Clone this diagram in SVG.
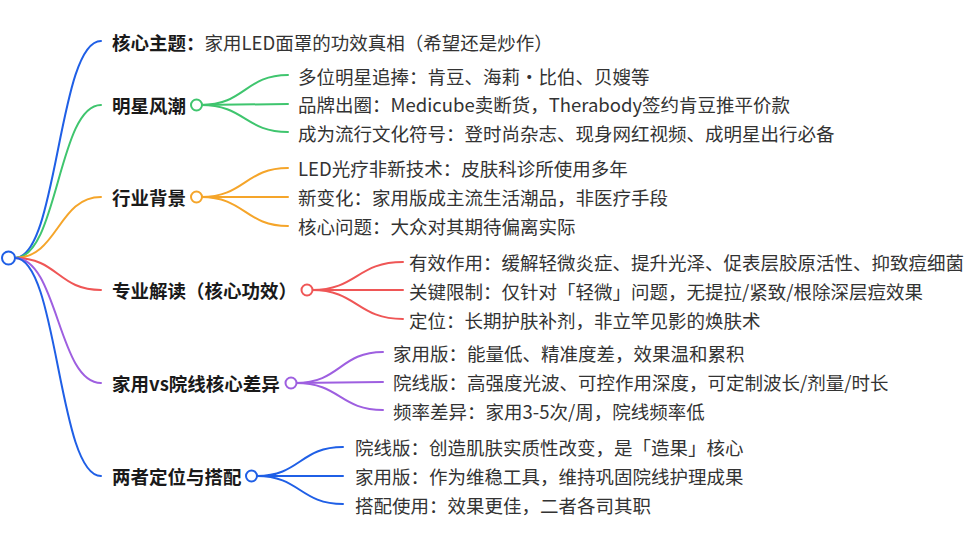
<svg xmlns="http://www.w3.org/2000/svg" width="975" height="533" viewBox="0 0 975 533">
<style>
text{font-family:"Noto Sans CJK SC","Noto Sans",sans-serif;dominant-baseline:central;}
.b{font-size:18.5px;font-weight:bold;fill:#1a1a1a;}
.n{font-size:18.5px;fill:#333;}
.l{fill:none;stroke-width:2;stroke-linecap:round;}
.c{fill:#fff;stroke-width:2;}
.blue{stroke:#1f5fe6;}
.green{stroke:#3fc56e;}
.orange{stroke:#f5a52a;}
.red{stroke:#ef5656;}
.purple{stroke:#9e5fe0;}
</style>
<rect width="975" height="533" fill="#fff"/>
<g id="connectors">
<path class="l blue" d="M15 258 C58 258,58 41,101 41"/>
<path class="l green" d="M15 258 C58 258,58 105,101 105"/>
<path class="l orange" d="M15 258 C58 258,58 197,101 197"/>
<path class="l red" d="M15 258 C58 258,58 290,101 290"/>
<path class="l purple" d="M15 258 C58 258,58 383,101 383"/>
<path class="l blue" d="M15 258 C58 258,58 476,101 476"/>
<path class="l green" d="M201 105 C245 105,245 75,288 75"/>
<path class="l green" d="M201 105 L288 104"/>
<path class="l green" d="M201 105 C245 105,245 132,288 132"/>
<path class="l orange" d="M201 197 C245 197,245 168,288 168"/>
<path class="l orange" d="M201 197 L288 197"/>
<path class="l orange" d="M201 197 C245 197,245 226,288 226"/>
<path class="l red" d="M312 290 C357 290,357 262,403 262"/>
<path class="l red" d="M312 290 L403 290"/>
<path class="l red" d="M312 290 C357 290,357 319,403 319"/>
<path class="l purple" d="M296 383 C340 383,340 352,383 352"/>
<path class="l purple" d="M296 383 L383 382"/>
<path class="l purple" d="M296 383 C340 383,340 410,383 410"/>
<path class="l blue" d="M257 476 C300 476,300 447,343 447"/>
<path class="l blue" d="M257 476 L343 476"/>
<path class="l blue" d="M257 476 C300 476,300 504,343 504"/>
</g>
<g id="root"><circle class="c blue" cx="8.5" cy="258" r="6.5"/></g>
<g id="n1"><text x="112" y="42"><tspan class="b">核心主题：</tspan><tspan class="n">家用LED面罩的功效真相（希望还是炒作）</tspan></text></g>
<g id="n2"><text class="b" x="112" y="105">明星风潮</text><circle class="c green" cx="196.5" cy="105" r="5.5"/></g>
<g id="n2a"><text class="n" x="298" y="76">多位明星追捧：肯豆、海莉·比伯、贝嫂等</text></g>
<g id="n2b"><text class="n" x="298" y="104">品牌出圈：Medicube卖断货，Therabody签约肯豆推平价款</text></g>
<g id="n2c"><text class="n" x="298" y="133">成为流行文化符号：登时尚杂志、现身网红视频、成明星出行必备</text></g>
<g id="n3"><text class="b" x="112" y="197">行业背景</text><circle class="c orange" cx="196.5" cy="197" r="5.5"/></g>
<g id="n3a"><text class="n" x="298" y="168">LED光疗非新技术：皮肤科诊所使用多年</text></g>
<g id="n3b"><text class="n" x="298" y="197">新变化：家用版成主流生活潮品，非医疗手段</text></g>
<g id="n3c"><text class="n" x="298" y="226">核心问题：大众对其期待偏离实际</text></g>
<g id="n4"><text class="b" x="112" y="290">专业解读（核心功效）</text><circle class="c red" cx="307" cy="290" r="5.5"/></g>
<g id="n4a"><text class="n" x="409" y="262">有效作用：缓解轻微炎症、提升光泽、促表层胶原活性、抑致痘细菌</text></g>
<g id="n4b"><text class="n" x="409" y="291">关键限制：仅针对「轻微」问题，无提拉/紧致/根除深层痘效果</text></g>
<g id="n4c"><text class="n" x="409" y="320">定位：长期护肤补剂，非立竿见影的焕肤术</text></g>
<g id="n5"><text class="b" x="112" y="383">家用vs院线核心差异</text><circle class="c purple" cx="291" cy="383" r="5.5"/></g>
<g id="n5a"><text class="n" x="393" y="353">家用版：能量低、精准度差，效果温和累积</text></g>
<g id="n5b"><text class="n" x="393" y="382">院线版：高强度光波、可控作用深度，可定制波长/剂量/时长</text></g>
<g id="n5c"><text class="n" x="393" y="411">频率差异：家用3-5次/周，院线频率低</text></g>
<g id="n6"><text class="b" x="112" y="476">两者定位与搭配</text><circle class="c blue" cx="251.5" cy="476" r="5.5"/></g>
<g id="n6a"><text class="n" x="355" y="447">院线版：创造肌肤实质性改变，是「造果」核心</text></g>
<g id="n6b"><text class="n" x="355" y="476">家用版：作为维稳工具，维持巩固院线护理成果</text></g>
<g id="n6c"><text class="n" x="355" y="505">搭配使用：效果更佳，二者各司其职</text></g>
</svg>
